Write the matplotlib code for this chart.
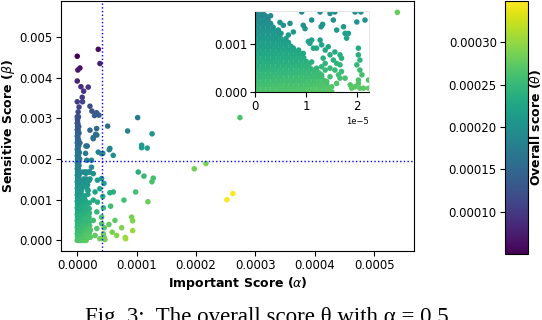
import numpy as np
import matplotlib.pyplot as plt

# units used for the typed values below
ALPHA_UNIT = 1e-6   # important score values are written in 1e-6
BETA_UNIT = 1e-4    # sensitive score values are written in 1e-4

# dense core near the origin: one list of alpha values per beta level
core_beta = [0.0, 0.8, 1.6, 2.4, 3.2, 4.0, 4.8, 5.6, 6.4, 7.2, 8.0, 8.8, 9.6,
             10.4, 11.2, 12.0, 12.8, 13.6, 14.4, 15.2, 16.0, 16.8, 17.6, 18.4,
             19.2, 20.0, 20.8, 21.6, 22.4, 23.2, 24.0, 24.8, 25.6, 26.4, 27.2,
             28.0, 28.8, 29.6, 30.4]
core_alpha = [
    [0, 1, 2, 3, 4, 5, 6, 7, 8, 9, 10, 11, 12, 13, 14, 15],
    [0.5, 1.5, 2.5, 3.5, 4.5, 5.5, 6.5, 7.5, 8.5, 9.5, 10.5, 11.5, 12.5, 13.5, 14.5],
    [0, 1, 2, 3, 4, 5, 6, 7, 8, 9, 10, 11, 12, 13, 14],
    [0.5, 1.5, 2.5, 3.5, 4.5, 5.5, 6.5, 7.5, 8.5, 9.5, 10.5, 11.5, 12.5, 13.5],
    [0, 1, 2, 3, 4, 5, 6, 7, 8, 9, 10, 11, 12, 13],
    [0.5, 1.5, 2.5, 3.5, 4.5, 5.5, 6.5, 7.5, 8.5, 9.5, 10.5, 11.5, 12.5],
    [0, 1, 2, 3, 4, 5, 6, 7, 8, 9, 10, 11, 12],
    [0.5, 1.5, 2.5, 3.5, 4.5, 5.5, 6.5, 7.5, 8.5, 9.5, 10.5],
    [0, 1, 2, 3, 4, 5, 6, 7, 8, 9, 10],
    [0.5, 1.5, 2.5, 3.5, 4.5, 5.5, 6.5, 7.5, 8.5, 9.5],
    [0, 1, 2, 3, 4, 5, 6, 7, 8, 9],
    [0.5, 1.5, 2.5, 3.5, 4.5, 5.5, 6.5, 7.5, 8.5],
    [0, 1, 2, 3, 4, 5, 6, 7],
    [0.5, 1.5, 2.5, 3.5, 4.5, 5.5, 6.5],
    [0, 1, 2, 3, 4, 5, 6],
    [0.5, 1.5, 2.5, 3.5, 4.5],
    [0, 1, 2, 3, 4],
    [0.5, 1.5, 2.5, 3.5],
    [0, 1, 2, 3],
    [0.5, 1.5, 2.5],
    [0, 1, 2],
    [0.5, 1.5],
    [0, 1, 2],
    [0.5, 1.5, 3],
    [0, 1, 2.5],
    [0.5, 1.5, 4],
    [0, 1, 2],
    [0.5, 2, 3.5],
    [0, 1.5],
    [0.5, 2.5],
    [0, 1.5, 4.5],
    [0.5, 2],
    [0, 1],
    [0.5, 3],
    [0, 1.5],
    [0.5, 2.5],
    [0, 1],
    [0.5],
    [0, 2],
]

# scattered points (alpha in 1e-6, beta in 1e-4)
sparse_alpha = [
    0, 35.4, 38.2, 4.5, 1.0, 0, 6.2, 18.5, 10.8, 8.4, 0, 8.9, 21.4, 24.7, 32.6,
    36.5, 29.0, 101.7, 51.2, 21.4, 32.6, 84.8, 126.0, 31.0, 26.9, 108.4, 108.4,
    117.8, 16.8, 53.9, 274.0, 60.6, 41.0, 35.4, 539.0, 1.5, 3.0, 0.5,
    27.0, 33.0, 14.7, 55.0, 43.0, 14.0, 16.0, 24.0,
    24, 27, 34, 41, 45, 38, 30, 43, 27, 34, 44, 33, 41, 27, 41, 33, 44, 30, 38,
    102.7, 112.3, 128.0, 125.8, 98.3, 119.0, 262.0, 252.0, 91.6, 93.3, 93.3,
    197.0, 216.7, 78.6, 63.5, 53.4, 58.9, 66.3, 80.8, 74.7, 45.5, 45.5, 81.5,
    46.6, 55.0, 60.6, 56.2,
    1.25, 1.57, 3.0, 4.84, 5.5, 4.52, 5.04, 6.8, 6.48, 7.46, 9.1, 9.4, 9.75,
    11.05, 12.7, 12.9, 13.2, 14.65, 15.3, 15.6, 15.95, 17.3, 17.6, 18.25, 17.9,
    19.55, 19.9, 20.7, 21.5, 11.05, 10.4, 10.7, 12.7, 13.0, 11.4, 12.0, 13.7,
    14.3, 7.46, 8.4, 9.4, 14.65, 15.6, 16.6, 16.9, 15.3, 15.95, 13.3, 13.7,
    13.0, 12.0, 11.05, 10.4, 12.4, 13.0, 14.65, 15.6, 16.3, 16.6, 17.6, 18.6,
    15.95, 14.0, 13.0, 15.0, 18.9, 20.2, 20.2, 20.5, 19.9, 20.5, 20.9, 20.2,
    20.2, 19.55, 21.2, 22.2, 22.2, 20.5, 16.6, 16.9, 13.7, 14.65,
]
sparse_beta = [
    45.3, 47.0, 43.5, 42.4, 41.9, 39.2, 37.8, 37.7, 36.7, 35.2, 34.1, 34.1, 33.0,
    31.8, 31.4, 30.8, 30.7, 30.2, 28.1, 27.1, 27.5, 26.9, 26.2, 26.1, 25.3, 23.4,
    22.8, 22.7, 23.2, 22.3, 30.2, 20.9, 21.3, 21.7, 56.1, 31.6, 32.8, 30.0,
    25.0, 25.9, 23.2, 22.6, 21.4, 21.4, 19.7, 19.7,
    18.0, 16.4, 14.8, 15.2, 14.0, 12.7, 11.9, 10.8, 9.9, 9.4, 8.0, 7.0, 5.7, 4.9,
    4.1, 2.9, 1.6, 1.2, 0.4,
    16.8, 15.8, 15.3, 14.4, 11.9, 9.5, 11.5, 10.0, 5.7, 4.8, 2.4,
    17.6, 18.9, 9.9, 4.9, 3.9, 2.0, 1.2, 0.7, 3.1, 3.1, 0.7,
    0.4, 0.2, 11.7, 11.9, 8.4,
    16.1, 15.1, 16.0, 14.6, 14.0, 13.0, 12.3, 14.4, 11.96, 12.6, 16.8, 14.0, 13.3,
    15.1, 16.8, 13.7, 14.2, 16.5, 15.1, 16.8, 13.0, 13.7, 12.3, 12.3, 11.3,
    16.8, 14.7, 16.8, 15.1, 10.9, 10.6, 10.2, 10.9, 9.9, 9.2, 9.2, 8.8,
    9.5, 9.2, 8.4, 8.1, 7.8, 8.4, 7.8, 7.1, 6.7, 6.0, 7.1, 6.0,
    5.3, 5.0, 6.3, 5.3, 3.9, 3.6, 3.2, 4.6, 3.6, 2.9, 2.9, 1.5,
    1.8, 2.2, 1.5, 1.1, 0.8, 9.2, 7.8, 6.7, 5.7, 4.6, 3.6, 2.5,
    1.8, 1.1, 0.8, 2.5, 0.8, 0.8, 5.7, 4.3, 4.6, 5.0,
]

# overall score weights (alpha = 0.5 weighting)
THETA_BASE = 0.000265
W_ALPHA = 0.52
W_BETA = 0.0475

# threshold lines
ALPHA_THRESHOLD = 0.0000421
BETA_THRESHOLD = 0.00196

alpha, beta = [], []
for b, row in zip(core_beta, core_alpha):
    for a in row:
        alpha.append(a)
        beta.append(b)
alpha = np.array(alpha + sparse_alpha) * ALPHA_UNIT
beta = np.array(beta + sparse_beta) * BETA_UNIT
theta = THETA_BASE + W_ALPHA * alpha - W_BETA * beta

plt.rcParams['font.size'] = 8.5

fig = plt.figure(figsize=(5.42, 3.2), dpi=100)
ax = fig.add_axes([0.1125, 0.2156, 0.6513, 0.7814])
sc = ax.scatter(alpha, beta, c=theta, cmap='viridis', s=16, linewidths=0)
ax.axvline(ALPHA_THRESHOLD, color='blue', linestyle=':', linewidth=1)
ax.axhline(BETA_THRESHOLD, color='blue', linestyle=':', linewidth=1)
ax.set_xlim(-0.0000274, 0.000567)
ax.set_ylim(-0.000263, 0.00589)
ax.set_xticks([0, 0.0001, 0.0002, 0.0003, 0.0004, 0.0005])
ax.set_yticks([0, 0.001, 0.002, 0.003, 0.004, 0.005])
ax.tick_params(pad=2.5)
ax.set_xlabel(r'Important Score ($\alpha$)', fontweight='bold', fontsize=9,
              labelpad=2)
ax.set_ylabel(r'Sensitive Score ($\beta$)', fontweight='bold', fontsize=9,
              labelpad=1.5)

# zoomed inset
axin = fig.add_axes([0.471, 0.7125, 0.209, 0.2531])
axin.scatter(alpha, beta, c=theta, cmap='viridis', s=16, linewidths=0,
             vmin=theta.min(), vmax=theta.max())
axin.set_xlim(0, 0.0000222)
axin.set_ylim(0, 0.0017)
axin.set_xticks([0, 0.00001, 0.00002])
axin.set_yticks([0, 0.001])
axin.tick_params(pad=2)
axin.xaxis.get_offset_text().set_fontsize(6)
for side in ['top', 'right']:
    axin.spines[side].set_color('#e6e6e6')

cax = fig.add_axes([0.932, 0.206, 0.0424, 0.79])
cb = fig.colorbar(sc, cax=cax)
cax.yaxis.set_ticks_position('left')
cax.yaxis.set_label_position('right')
cb.set_ticks([0.0001, 0.00015, 0.0002, 0.00025, 0.0003])
cax.tick_params(pad=2.5)
cb.set_label(r'Overall score ($\theta$)', fontweight='bold', fontsize=9,
             labelpad=0)

fig.text(0.493, 1 - 307 / 320, 'Fig. 3:  The overall score \u03b8 with \u03b1 = 0.5',
         ha='center', va='top', family='Liberation Serif', fontsize=16.5)

fig.savefig('out.png', dpi=100)
